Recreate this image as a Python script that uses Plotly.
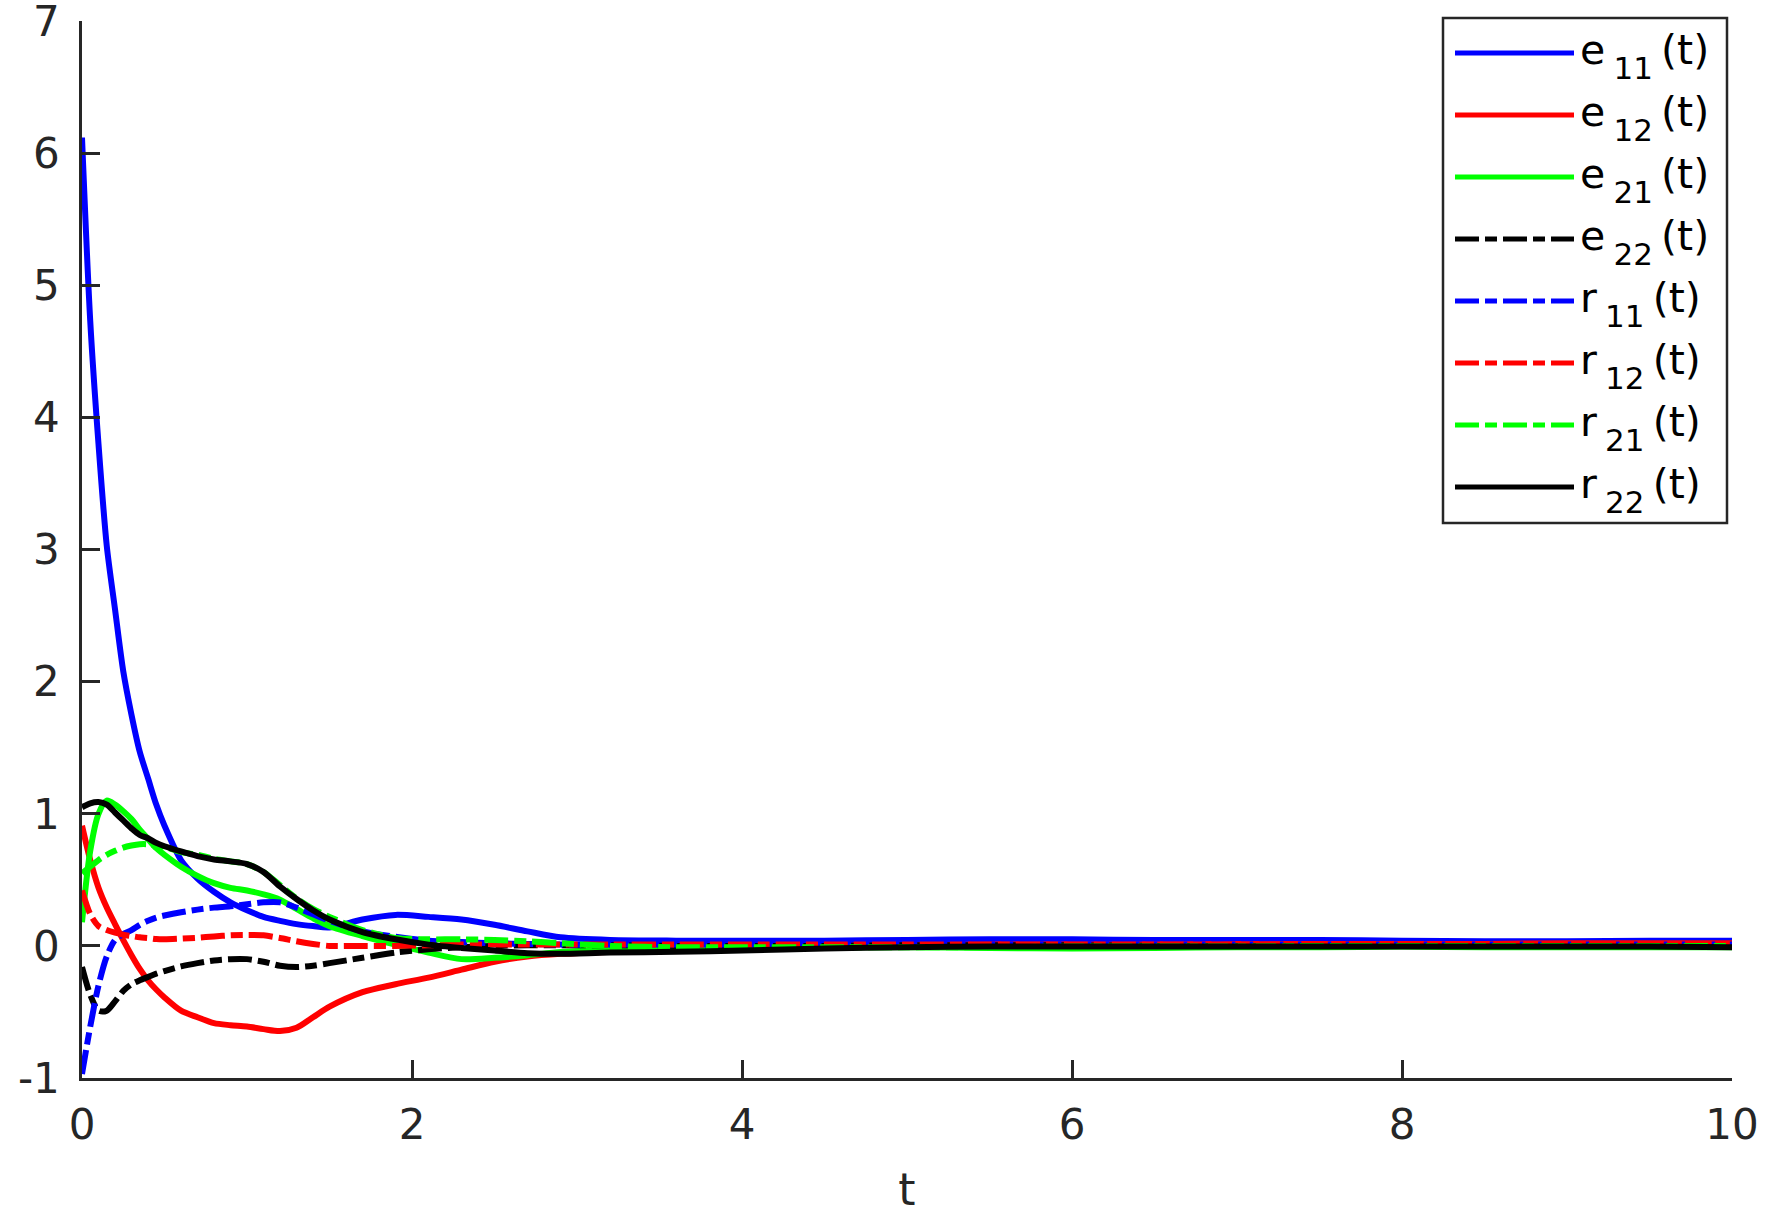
import plotly.graph_objects as go

# ---- data ----
t = [0, 0.05, 0.1, 0.15, 0.2, 0.25, 0.3, 0.35, 0.4, 0.45, 0.5, 0.6, 0.7, 0.8, 0.9, 1.0,
     1.1, 1.2, 1.3, 1.4, 1.5, 1.7, 1.9, 2.1, 2.3, 2.5, 2.7, 2.9, 3.2, 3.6, 4.0, 4.5, 5.0,
     5.5, 6.0, 6.5, 7.0, 7.5, 8.0, 8.5, 9.0, 9.5, 10.0]

e11 = [6.12, 4.73, 3.8, 3.03, 2.55, 2.08, 1.75, 1.47, 1.27, 1.07, 0.91, 0.65, 0.51, 0.41, 0.33,
       0.27, 0.22, 0.19, 0.165, 0.15, 0.14, 0.20, 0.235, 0.22, 0.20, 0.16, 0.11, 0.065, 0.045,
       0.04, 0.04, 0.04, 0.045, 0.05, 0.05, 0.045, 0.045, 0.045, 0.04, 0.035, 0.035, 0.04, 0.04]
e12 = [0.91, 0.65, 0.44, 0.29, 0.165, 0.044, -0.07, -0.174, -0.26, -0.33, -0.39, -0.49, -0.54,
       -0.585, -0.60, -0.61, -0.63, -0.645, -0.62, -0.54, -0.46, -0.35, -0.29, -0.24, -0.18,
       -0.12, -0.08, -0.06, -0.045, -0.02, -0.005, 0.0, 0.005, 0.01, 0.01, 0.01, 0.015, 0.015,
       0.015, 0.015, 0.02, 0.02, 0.02]
e21 = [0.18, 0.72, 1.0, 1.1, 1.07, 1.02, 0.96, 0.88, 0.81, 0.74, 0.69, 0.60, 0.53, 0.475, 0.44,
       0.42, 0.39, 0.35, 0.28, 0.21, 0.15, 0.075, 0.01, -0.05, -0.10, -0.09, -0.07, -0.045,
       -0.03, -0.02, -0.015, -0.01, -0.01, -0.015, -0.02, -0.015, -0.01, -0.01, -0.005, -0.01,
       -0.01, -0.01, -0.01]
e22 = [-0.16, -0.37, -0.49, -0.49, -0.42, -0.34, -0.29, -0.26, -0.235, -0.21, -0.19, -0.155,
       -0.13, -0.11, -0.10, -0.10, -0.12, -0.15, -0.16, -0.15, -0.13, -0.09, -0.05, -0.025,
       -0.01, 0.0, 0.005, 0.005, 0.005, 0.0, 0.0, 0.0, 0.005, 0.005, 0.005, 0.0, 0.0, 0.0, 0.0,
       0.0, 0.0, 0.0, 0.0]
r11 = [-0.97, -0.61, -0.30, -0.08, 0.045, 0.09, 0.12, 0.16, 0.19, 0.215, 0.23, 0.255, 0.275,
       0.29, 0.30, 0.315, 0.33, 0.33, 0.29, 0.24, 0.19, 0.11, 0.07, 0.04, 0.03, 0.02, 0.015,
       0.01, 0.01, 0.01, 0.01, 0.01, 0.01, 0.01, 0.01, 0.01, 0.01, 0.01, 0.01, 0.01, 0.01,
       0.01, 0.01]
r12 = [0.42, 0.24, 0.15, 0.12, 0.10, 0.085, 0.075, 0.065, 0.06, 0.052, 0.05, 0.055, 0.062,
       0.072, 0.08, 0.082, 0.08, 0.06, 0.035, 0.015, 0.0, 0.0, 0.0, 0.005, 0.01, 0.01, 0.01,
       0.01, 0.01, 0.01, 0.01, 0.01, 0.01, 0.01, 0.01, 0.01, 0.01, 0.015, 0.015, 0.015, 0.015,
       0.015, 0.015]
r21 = [0.55, 0.60, 0.65, 0.69, 0.72, 0.745, 0.76, 0.77, 0.77, 0.76, 0.75, 0.71, 0.69, 0.66,
       0.64, 0.62, 0.56, 0.46, 0.36, 0.28, 0.22, 0.12, 0.06, 0.05, 0.05, 0.045, 0.035, 0.02,
       0.0, -0.01, -0.01, -0.01, -0.01, -0.01, -0.005, -0.005, -0.005, 0.0, 0.0, 0.0, 0.0,
       0.0, 0.0]
r22 = [1.05, 1.08, 1.09, 1.07, 1.01, 0.95, 0.89, 0.84, 0.815, 0.78, 0.755, 0.715, 0.68, 0.655,
       0.64, 0.62, 0.56, 0.45, 0.355, 0.27, 0.20, 0.105, 0.05, 0.01, -0.015, -0.035, -0.055,
       -0.06, -0.05, -0.045, -0.035, -0.02, -0.01, -0.005, -0.005, -0.005, -0.005, -0.005,
       -0.005, -0.005, -0.005, -0.005, -0.01]

series_names = ["e", "e", "e", "e", "r", "r", "r", "r"]
series_subs = ["11", "12", "21", "22", "11", "12", "21", "22"]
series_values = [e11, e12, e21, e22, r11, r12, r21, r22]

x_ticks = [0, 2, 4, 6, 8, 10]
y_ticks = [-1, 0, 1, 2, 3, 4, 5, 6, 7]
y_ticktext = ["-1", "0", "1", "2", "3", "4", "5", "6", "7"]

# ---- styles ----
DASHDOT = "24px,6px,12px,6px"
colors = ["#0000FF", "#FF0000", "#00FF00", "#000000", "#0000FF", "#FF0000", "#00FF00", "#000000"]
dashes = ["solid", "solid", "solid", DASHDOT, DASHDOT, DASHDOT, DASHDOT, "solid"]
AX = "#262626"
FONT = "DejaVu Sans, Liberation Sans, sans-serif"
W, H = 1773, 1215
PLOT_L, PLOT_R, PLOT_T, PLOT_B = 82, 1732, 21, 1078   # page pixels of the plot area
L, T = PLOT_L, PLOT_T
R, B = W - PLOT_R, H - PLOT_B
PW, PH = PLOT_R - PLOT_L, PLOT_B - PLOT_T

fig = go.Figure()
for name, sub, vals, c, d in zip(series_names, series_subs, series_values, colors, dashes):
    fig.add_trace(go.Scatter(x=t, y=vals, mode="lines", name=f"{name}{sub}(t)", showlegend=False,
                             line=dict(color=c, width=6, dash=d, shape="spline", smoothing=0.8)))

def px_x(px):
    return (px - PLOT_L) / PW

def px_y(py):
    return (PLOT_B - py) / PH

# custom legend (long line samples like the reference)
shapes = [dict(type="rect", xref="paper", yref="paper",
               x0=px_x(1443), x1=px_x(1727), y0=px_y(523), y1=px_y(18),
               line=dict(color=AX, width=2.5), fillcolor="white", layer="above")]
annotations = []
for i, (name, sub, c, d) in enumerate(zip(series_names, series_subs, colors, dashes)):
    ly = 53 + 62 * i
    shapes.append(dict(type="line", xref="paper", yref="paper",
                       x0=px_x(1455), x1=px_x(1574), y0=px_y(ly), y1=px_y(ly),
                       line=dict(color=c, width=5, dash=d), layer="above"))
    label = (f"{name}\u2009<span style='font-size:31px;baseline-shift:-15px'>{sub}</span>"
             f"\u2009(t)")
    annotations.append(dict(xref="paper", yref="paper", x=px_x(1578), y=px_y(ly + 3),
                            xanchor="left", yanchor="middle", showarrow=False, text=label,
                            font=dict(family=FONT, size=41, color="black")))

fig.update_layout(
    width=W, height=H,
    margin=dict(l=L, r=R, t=T, b=B, autoexpand=False),
    paper_bgcolor="white", plot_bgcolor="white",
    shapes=shapes, annotations=annotations,
    showlegend=False,
    xaxis=dict(range=[0, 10], tickvals=x_ticks, showgrid=False, zeroline=False,
               showline=True, linecolor=AX, linewidth=2.5, ticks="inside", ticklen=18,
               tickwidth=2.5, tickcolor=AX, mirror=False, ticklabeloverflow="allow",
               automargin=False, ticklabelstandoff=8,
               tickfont=dict(family=FONT, size=42, color=AX),
               title=dict(text="t", font=dict(family=FONT, size=44, color=AX), standoff=28)),
    yaxis=dict(range=[-1, 7.003], tickvals=y_ticks, ticktext=y_ticktext, showgrid=False,
               zeroline=False, showline=True, linecolor=AX, linewidth=2.5, ticks="inside",
               ticklen=18, tickwidth=2.5, tickcolor=AX, mirror=False, automargin=False,
               ticklabeloverflow="allow", ticklabelstandoff=11,
               tickfont=dict(family=FONT, size=42, color=AX)),
)

fig.write_html("out.html", config={"displayModeBar": False},
               post_script="document.body.style.margin='0';document.body.style.overflow='hidden';")
